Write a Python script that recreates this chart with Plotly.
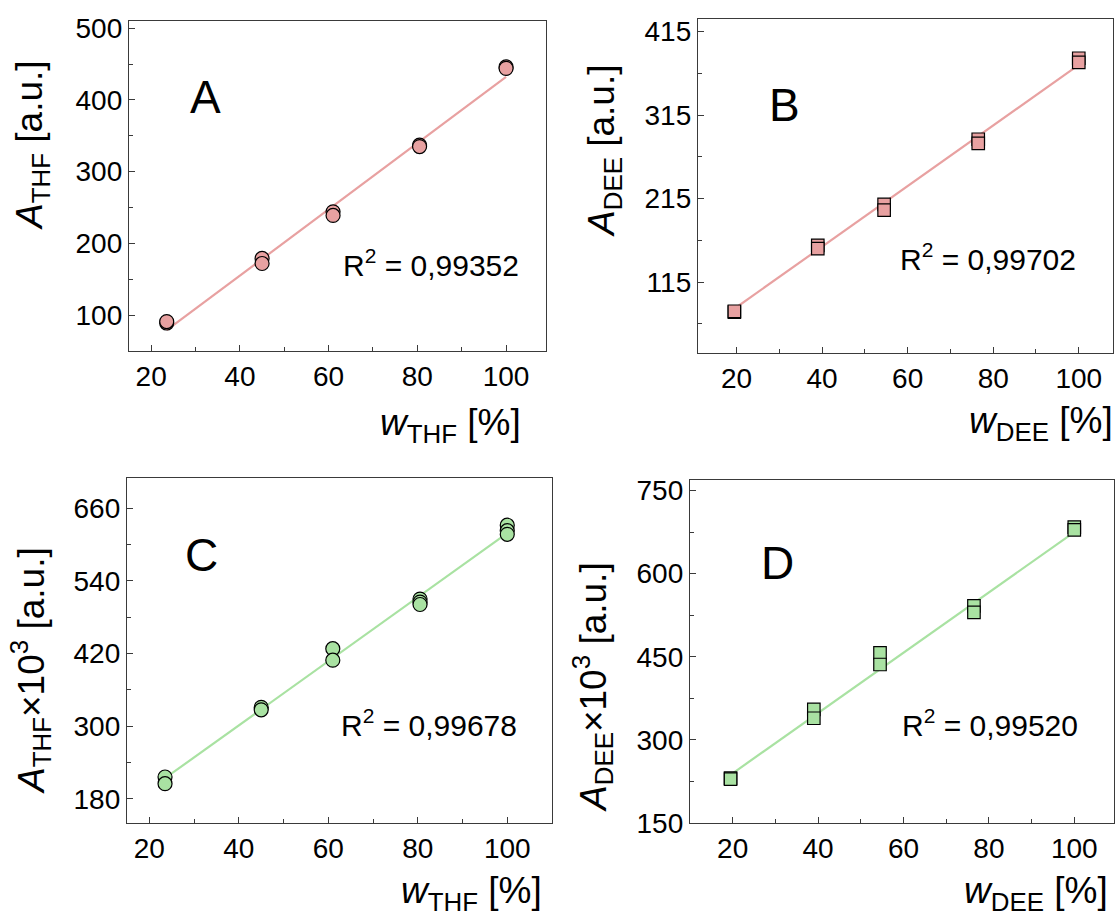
import plotly.graph_objects as go

W, H = 1115, 916
FONT = "Liberation Sans, Arial, sans-serif"

# ---------------- data ----------------
# Panel A (THF, peak area)
a_x = [23.5, 23.5, 45, 45, 61, 61, 80.5, 80.5, 100, 100]
a_y = [89, 91, 179, 172, 244, 239, 337, 335, 446, 444]
a_fit_x = [23.5, 100]
a_fit_y = [79, 432]
a_r2 = "0,99352"

# Panel B (DEE, peak area)
b_x = [19.5, 19.5, 39, 39, 54.5, 54.5, 76.5, 76.5, 100, 100]
b_y = [79, 80, 159, 155, 208, 201, 286, 281, 383, 378]
b_fit_x = [19.5, 100]
b_fit_y = [83, 375]
b_r2 = "0,99702"

# Panel C (THF, x10^3)
c_x = [23.5, 23.5, 45, 45, 61, 61, 80.5, 80.5, 80.5, 100, 100, 100]
c_y = [216, 205, 331, 327, 428, 409, 510, 505, 501, 632, 623, 617]
c_fit_x = [23.5, 100]
c_fit_y = [214, 619]
c_r2 = "0,99678"

# Panel D (DEE, x10^3)
d_x = [19.5, 19.5, 39, 39, 54.5, 54.5, 76.5, 76.5, 100, 100]
d_y = [231, 229, 355, 339, 457, 436, 542, 530, 684, 679]
d_fit_x = [19.5, 100]
d_fit_y = [237, 675]
d_r2 = "0,99520"

x_ticks = [20, 40, 60, 80, 100]
a_yticks = [100, 200, 300, 400, 500]
b_yticks = [115, 215, 315, 415]
c_yticks = [180, 300, 420, 540, 660]
d_yticks = [150, 300, 450, 600, 750]

PINK = "#e8a1a1"
GREEN = "#a9e2a2"
FRAME = "#3a3a3a"

# ---------------- layout geometry (pixels) ----------------
panels = [
    dict(name="A", xs=a_x, ys=a_y, fx=a_fit_x, fy=a_fit_y, r2=a_r2, col=PINK, sym="circle",
         px=(129, 546), py=(21, 351), xr=[15, 109], yr=[50, 510], yt=a_yticks, ymd=50,
         lab=(32.3, 404), r2pos=(83, 172.5)),
    dict(name="B", xs=b_x, ys=b_y, fx=b_fit_x, fy=b_fit_y, r2=b_r2, col=PINK, sym="square",
         px=(698, 1113), py=(19, 353), xr=[11, 108], yr=[30, 430], yt=b_yticks, ymd=50,
         lab=(31.3, 327), r2pos=(78.7, 145)),
    dict(name="C", xs=c_x, ys=c_y, fx=c_fit_x, fy=c_fit_y, r2=c_r2, col=GREEN, sym="circle",
         px=(127, 552), py=(478, 823), xr=[15, 110], yr=[140, 710], yt=c_yticks, ymd=60,
         lab=(31.7, 583), r2pos=(82.6, 304.5)),
    dict(name="D", xs=d_x, ys=d_y, fx=d_fit_x, fy=d_fit_y, r2=d_r2, col=GREEN, sym="square",
         px=(690, 1114), py=(480, 823), xr=[10, 109.3], yr=[150, 769], yt=d_yticks, ymd=75,
         lab=(30.4, 620), r2pos=(80.3, 330)),
]

fig = go.Figure()
annotations = []

for i, p in enumerate(panels):
    k = "" if i == 0 else str(i + 1)
    xa, ya = "x" + k, "y" + k
    fig.add_trace(go.Scatter(x=p["fx"], y=p["fy"], mode="lines",
                             line=dict(color=p["col"], width=2.2),
                             xaxis=xa, yaxis=ya, showlegend=False, hoverinfo="skip"))
    fig.add_trace(go.Scatter(x=p["xs"], y=p["ys"], mode="markers",
                             marker=dict(symbol=p["sym"], size=14 if p["sym"] == "circle" else 12.5,
                                         color=p["col"], line=dict(color="black", width=1.2)),
                             xaxis=xa, yaxis=ya, showlegend=False))
    dom_x = [p["px"][0] / W, p["px"][1] / W]
    dom_y = [1 - p["py"][1] / H, 1 - p["py"][0] / H]
    common = dict(showline=True, mirror=True, linecolor=FRAME, linewidth=1.3,
                  ticks="inside", ticklen=6, tickwidth=1.2, tickcolor=FRAME,
                  tickfont=dict(family=FONT, size=28, color="black"),
                  showgrid=False, zeroline=False, automargin=False)
    fig.layout["xaxis" + k] = dict(domain=dom_x, range=p["xr"], anchor=ya,
                                   tickvals=x_ticks,
                                   minor=dict(ticks="inside", ticklen=4, tickcolor=FRAME,
                                              tick0=10, dtick=10),
                                   **common)
    fig.layout["yaxis" + k] = dict(domain=dom_y, range=p["yr"], anchor=xa,
                                   tickvals=p["yt"],
                                   minor=dict(ticks="inside", ticklen=4, tickcolor=FRAME,
                                              tick0=p["yt"][0], dtick=p["ymd"]),
                                   **common)
    annotations.append(dict(x=p["lab"][0], y=p["lab"][1], xref=xa, yref=ya, text=p["name"],
                            showarrow=False, xanchor="center", yanchor="middle",
                            font=dict(family=FONT, size=46, color="black")))
    annotations.append(dict(x=p["r2pos"][0], y=p["r2pos"][1], xref=xa, yref=ya,
                            text="R<sup>2</sup> = " + p["r2"],
                            showarrow=False, xanchor="center", yanchor="middle",
                            font=dict(family=FONT, size=30, color="black")))

# axis titles as paper annotations
TF = dict(family=FONT, size=37, color="black")
titles = [
    ("<i>A</i><sub>THF</sub> [a.u.]", 32, 145, -90),
    ("<i>A</i><sub>DEE</sub> [a.u.]", 604, 151, -90),
    ("<i>A</i><sub>THF</sub>×10<sup>3</sup> [a.u.]", 30, 671, -90),
    ("<i>A</i><sub>DEE</sub>×10<sup>3</sup> [a.u.]", 592, 687, -90),
    ("<i>w</i><sub>THF</sub> [%]", 450, 425, 0),
    ("<i>w</i><sub>DEE</sub> [%]", 1041, 423, 0),
    ("<i>w</i><sub>THF</sub> [%]", 471, 893, 0),
    ("<i>w</i><sub>DEE</sub> [%]", 1036, 893, 0),
]
for t, xp, yp, ang in titles:
    annotations.append(dict(x=xp / W, y=1 - yp / H, xref="paper", yref="paper", text=t,
                            textangle=ang, showarrow=False, xanchor="center", yanchor="middle",
                            font=TF))

fig.update_layout(width=W, height=H, margin=dict(l=0, r=0, t=0, b=0, autoexpand=False),
                  paper_bgcolor="white", plot_bgcolor="white",
                  annotations=annotations, showlegend=False)

fig.write_html("out.html", config={"displayModeBar": False},
               post_script="document.body.style.margin='0px';"
                           "document.body.style.overflow='hidden';")
